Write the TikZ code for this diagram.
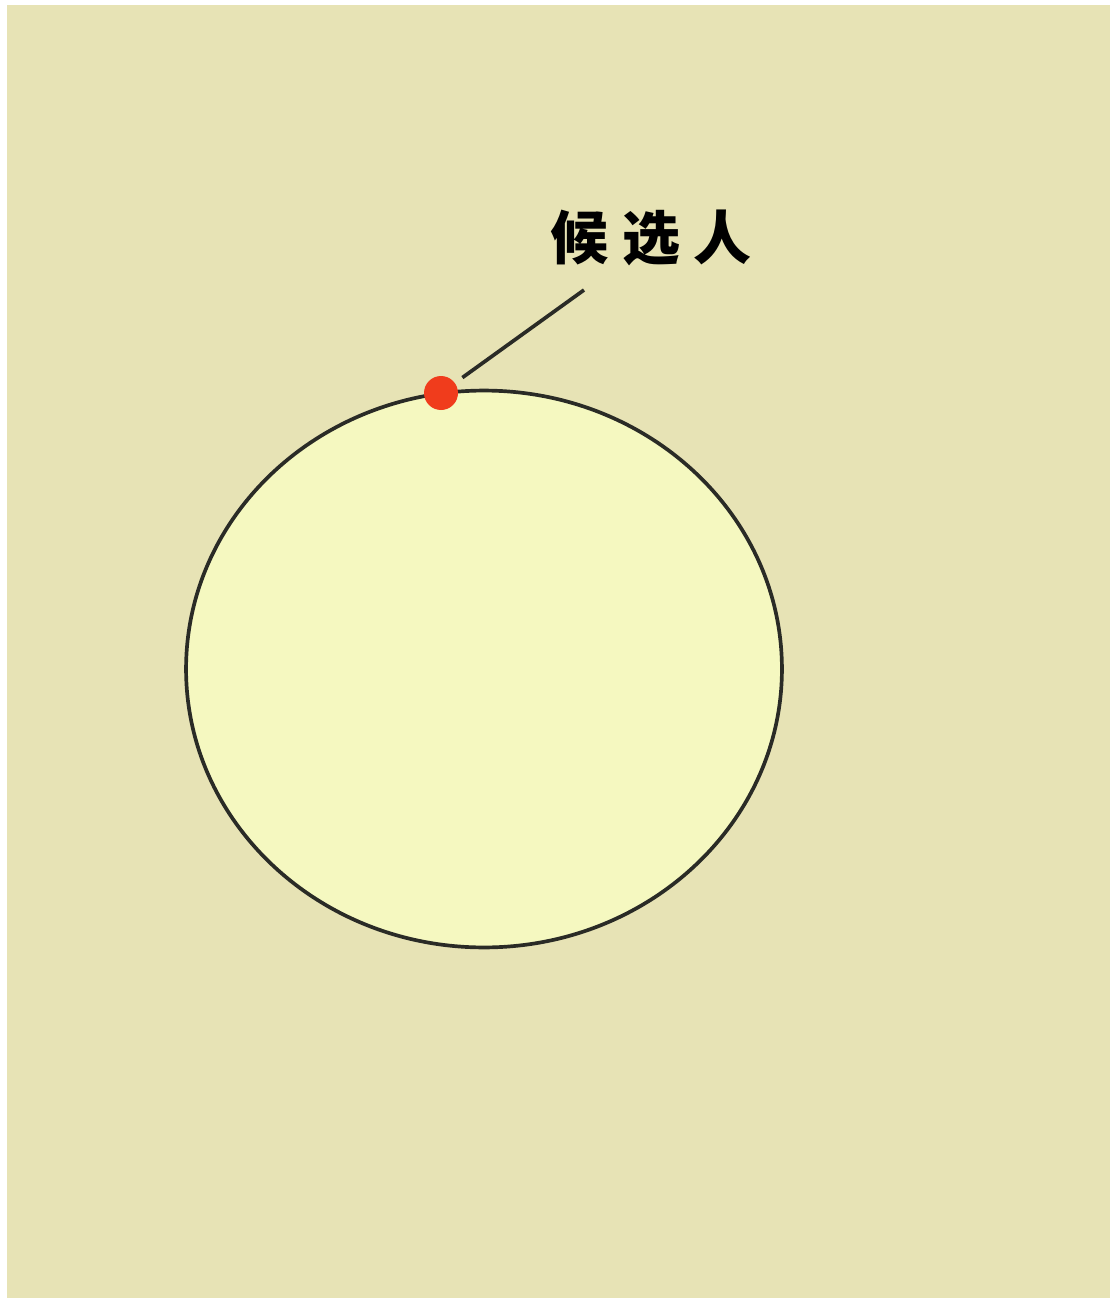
\documentclass[tikz,border=0pt]{standalone}
\usepackage{fontspec}
\newfontfamily\cjk{Noto Sans CJK SC}
\usetikzlibrary{shapes.geometric, positioning}
\definecolor{paper}{HTML}{E7E3B5}
\definecolor{discfill}{HTML}{F5F8C0}
\definecolor{dotred}{HTML}{F03C1C}
\definecolor{ink}{HTML}{2A2B26}
\tikzset{
    region/.style={ellipse, draw=ink, fill=discfill, line width=2.1pt,
        minimum width=11.92cm, minimum height=11.14cm, inner sep=0pt},
    cand/.style={circle, fill=dotred, minimum size=0.68cm, inner sep=0pt},
    lbl/.style={font=\cjk\bfseries\fontsize{33}{36}\selectfont, text=black, inner sep=0pt},
    lead/.style={draw=ink, line width=2.1pt, shorten <=0.18cm}
}

\begin{document}
\begin{tikzpicture}[x=0.02cm, y=-0.02cm]
    % page and background
    \fill[white] (0,0) rectangle (1110,1298);
    \fill[paper] (7,5) rectangle (1110,1298);

    \node[region] (set) at (484,669) {};
    \node[cand] (c) at (441,393) {};
    \node[lbl] (name) at (651,238) {候 选 人};

    \coordinate (tip) at (584,290);
    \draw[lead] (c) -- (tip);
\end{tikzpicture}
\end{document}
